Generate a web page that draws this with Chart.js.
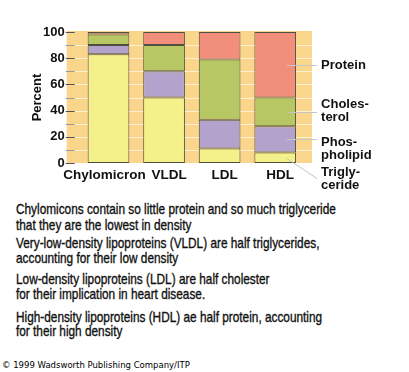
<!DOCTYPE html>
<html>
<head>
<meta charset="utf-8">
<script src="https://cdn.jsdelivr.net/npm/chart.js@4/dist/chart.umd.min.js"></script>
<style>
  html, body { margin: 0; padding: 0; background: #ffffff; }
  body { width: 409px; height: 372px; position: relative; overflow: hidden; }
  #wrap { position: absolute; left: 0; top: 0; width: 409px; height: 200px; }
  .ln { position: absolute; left: 16px; white-space: nowrap; color: #111;
        font-family: "Liberation Sans", Arial, Helvetica, sans-serif;
        font-size: 14.5px; line-height: 14.5px;
        transform: scaleX(0.815); transform-origin: 0 0;
        -webkit-text-stroke: 0.35px #111; }
  #copy { position: absolute; left: 2px; top: 361px; white-space: nowrap; color: #000;
          font-family: "DejaVu Sans", sans-serif; font-size: 8.5px; line-height: 8.5px; }
</style>
</head>
<body>
<div id="wrap"><canvas id="c"></canvas></div>
<div class="ln" style="top:201.5px">Chylomicons contain so little protein and so much triglyceride</div>
<div class="ln" style="top:217.5px">that they are the lowest in density</div>
<div class="ln" style="top:236px">Very-low-density lipoproteins (VLDL) are half triglycerides,</div>
<div class="ln" style="top:251px">accounting for their low density</div>
<div class="ln" style="top:272px">Low-density lipoproteins (LDL) are half cholester</div>
<div class="ln" style="top:286.5px">for their implication in heart disease.</div>
<div class="ln" style="top:309.5px">High-density lipoproteins (HDL) ae half protein, accounting</div>
<div class="ln" style="top:323.5px">for their high density</div>
<div id="copy">© 1999 Wadsworth Publishing Company/ITP</div>
<script>
// ---- data ----
const categories = ['Chylomicron', 'VLDL', 'LDL', 'HDL'];
const triglyceride = [83, 50, 11, 8];
const phospholipid = [7, 20, 22, 20];
const cholesterol  = [8, 20, 46, 22];
const protein      = [2, 10, 21, 50];
const seriesNames  = ['Triglyceride', 'Phospholipid', 'Cholesterol', 'Protein'];
const seriesLabelLines = [['Trigly-', 'ceride'], ['Phos-', 'pholipid'], ['Choles-', 'terol'], ['Protein']];
const yTicks = [0, 20, 40, 60, 80, 100];
const yTitle = 'Percent';

const seriesValues = [triglyceride, phospholipid, cholesterol, protein];
const colors = ['#f4f18a', '#b3a3cc', '#b7c763', '#f28e7c'];
const FONT = '"Liberation Sans", Arial, Helvetica, sans-serif';

const bgPlugin = {
  id: 'bg',
  beforeDatasetsDraw(chart) {
    const ctx = chart.ctx, a = chart.chartArea, y = chart.scales.y;
    const L = a.left - 14, R = a.right + 9;
    const top = y.getPixelForValue(100) - 1, bot = y.getPixelForValue(0);
    ctx.save();
    ctx.fillStyle = '#f9d68b';
    ctx.fillRect(L, top, R - L, bot - top);
    for (let v = 0; v <= 100; v += 10) {
      const py = Math.round(y.getPixelForValue(v)) + 0.5;
      ctx.strokeStyle = 'rgba(255,255,255,0.6)';
      ctx.lineWidth = 1;
      if (v > 0 && v < 100) {
        ctx.beginPath(); ctx.moveTo(L, py); ctx.lineTo(R, py); ctx.stroke();
      }
      ctx.strokeStyle = (v % 20 === 0) ? '#555555' : '#9a9a9a';
      ctx.beginPath(); ctx.moveTo(L - 1, py); ctx.lineTo(L + 8, py); ctx.stroke();
    }
    ctx.restore();
  },
  afterDatasetsDraw(chart) {
    const ctx = chart.ctx, y = chart.scales.y, x = chart.scales.x;
    const last = categories.length - 1;
    ctx.save();
    // category labels (drawn from the x scale, with small layout nudges)
    const nudge = [-4, 5, 5, 5];
    ctx.font = 'bold 13.5px ' + FONT;
    ctx.fillStyle = '#111';
    ctx.textAlign = 'center';
    ctx.textBaseline = 'alphabetic';
    categories.forEach((c, i) => {
      ctx.fillText(c, x.getPixelForValue(i) + nudge[i], chart.chartArea.bottom + 16);
    });
    // series labels with leader lines at the last bar
    const el = chart.getDatasetMeta(0).data[last];
    const x0 = el.x + 11.5;
    const labelX = el.x + el.width / 2 + 25;
    const lineEndX = el.x + el.width / 2 + 21;
    const baseOff = [18, 6.5, -4, 4];
    const endDy = [20.5, 0, 0, 0];
    let cum = 0;
    ctx.font = 'bold 13px ' + FONT;
    ctx.textAlign = 'left';
    for (let i = 0; i < seriesValues.length; i++) {
      const v = seriesValues[i][last];
      const py = y.getPixelForValue(cum + v / 2);
      cum += v;
      ctx.strokeStyle = '#c4c4c4';
      ctx.lineWidth = 1;
      ctx.beginPath();
      ctx.moveTo(x0, Math.round(py) + 0.5);
      ctx.lineTo(lineEndX, Math.round(py + endDy[i]) + 0.5);
      ctx.stroke();
      ctx.fillStyle = '#111';
      seriesLabelLines[i].forEach((t, k) => {
        ctx.fillText(t, labelX, py + baseOff[i] + k * 13.5);
      });
    }
    ctx.restore();
  }
};

new Chart(document.getElementById('c'), {
  type: 'bar',
  data: {
    labels: categories,
    datasets: seriesValues.map((vals, i) => ({
      label: seriesNames[i],
      data: vals,
      backgroundColor: colors[i],
      borderColor: '#4f4f40',
      borderWidth: 1,
      borderSkipped: false,
      barPercentage: 0.75,
      categoryPercentage: 1.0
    }))
  },
  options: {
    responsive: true,
    maintainAspectRatio: false,
    animation: false,
    events: [],
    layout: { padding: { top: 32, right: 106, left: 0, bottom: 0 } },
    plugins: { legend: { display: false }, tooltip: { enabled: false } },
    scales: {
      x: {
        stacked: true,
        grid: { display: false, drawTicks: false },
        border: { display: false },
        ticks: { display: false },
        afterFit: s => { s.height = 37; }
      },
      y: {
        stacked: true,
        min: 0, max: 100,
        afterBuildTicks: s => { s.ticks = yTicks.map(v => ({ value: v })); },
        grid: { display: false, drawTicks: false },
        border: { display: false },
        ticks: { color: '#111', font: { family: FONT, size: 13, weight: 'bold' }, padding: 16 },
        title: { display: true, text: yTitle, color: '#111', font: { family: FONT, size: 13, weight: 'bold' }, padding: { top: 30, bottom: 0 } },
        afterFit: s => { s.width = 80.7; }
      }
    }
  },
  plugins: [bgPlugin]
});
</script>
</body>
</html>
